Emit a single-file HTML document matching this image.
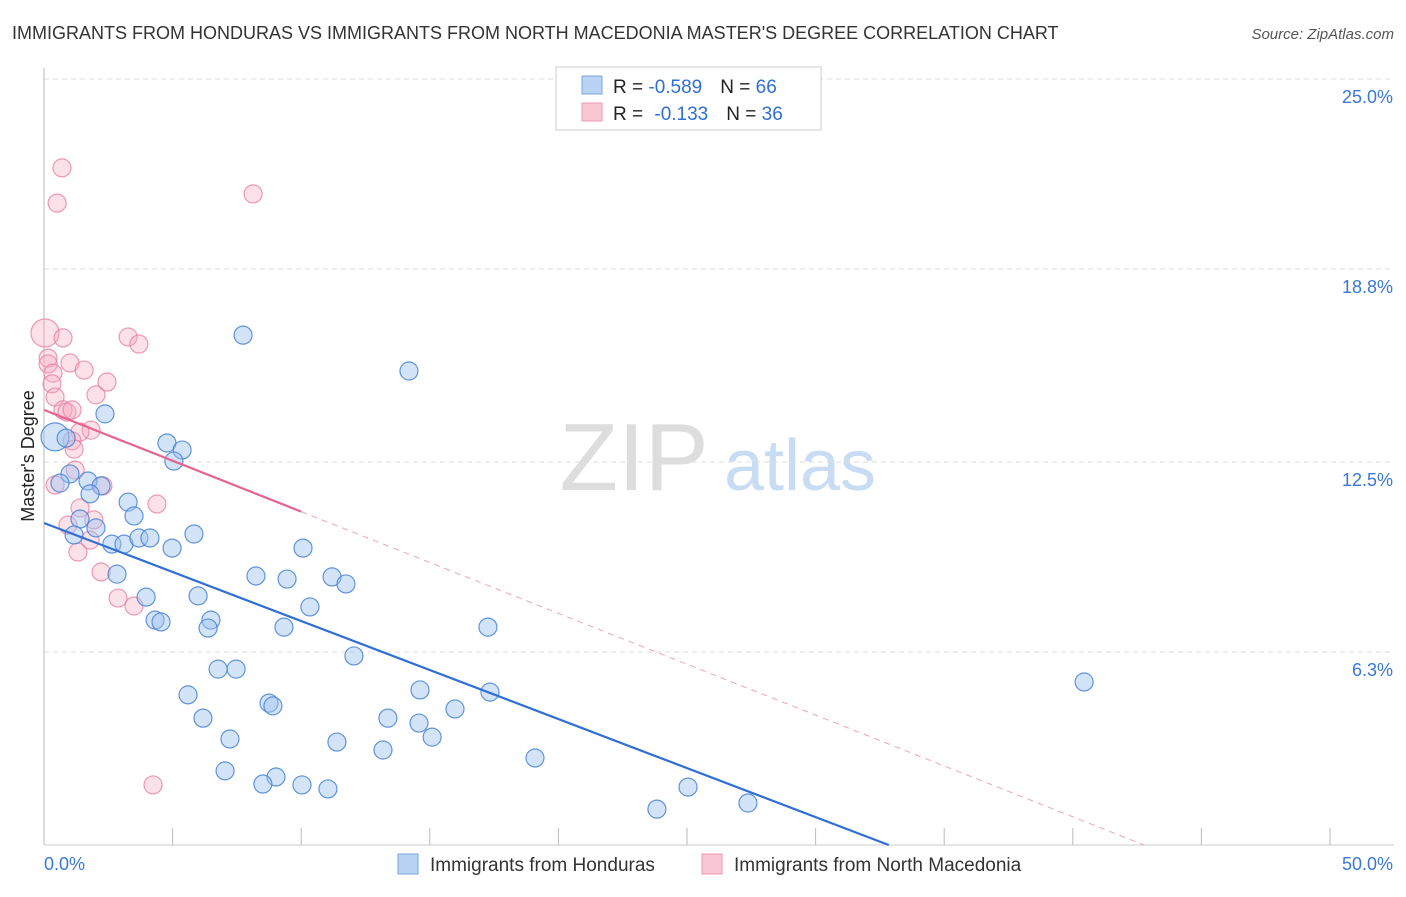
<!DOCTYPE html>
<html><head><meta charset="utf-8"><style>
body{margin:0;background:#fff;font-family:"Liberation Sans",sans-serif}
svg text{font-family:"Liberation Sans",sans-serif}
</style></head><body>
<svg id="c" width="1406" height="892" xmlns="http://www.w3.org/2000/svg">
<text x="12" y="39" font-size="18" fill="#333">IMMIGRANTS FROM HONDURAS VS IMMIGRANTS FROM NORTH MACEDONIA MASTER'S DEGREE CORRELATION CHART</text>
<text x="1394" y="39" font-size="15" fill="#555" text-anchor="end" font-style="italic">Source: ZipAtlas.com</text>
<text x="34" y="456" font-size="18" fill="#222" text-anchor="middle" transform="rotate(-90 34 456)">Master's Degree</text>
<g><text x="634" y="490" font-size="96" fill="#ddd" font-family="Liberation Serif" text-anchor="middle">ZIP</text><text x="800" y="490" font-size="72" fill="#c8dcf3" text-anchor="middle">atlas</text></g>
<g id="grid"></g><g id="marks"></g>
<g>
<rect x="556" y="67" width="265" height="63" fill="#fff" stroke="#ccc"/>
<rect x="582" y="76" width="20" height="18" fill="#b9d3f5" stroke="#7aa6e0"/>
<rect x="582" y="103" width="20" height="18" fill="#f9c6d4" stroke="#eb9ab2"/>
<text x="613" y="93" font-size="19" fill="#222">R = <tspan fill="#2f6fd6">-0.589</tspan><tspan dx="18">N = </tspan><tspan fill="#2f6fd6">66</tspan></text>
<text x="613" y="120" font-size="19" fill="#222">R = <tspan dx="6" fill="#2f6fd6">-0.133</tspan><tspan dx="18">N = </tspan><tspan fill="#2f6fd6">36</tspan></text>
</g>
<g>
<rect x="398" y="854" width="20" height="20" fill="#b9d3f5" stroke="#7aa6e0"/>
<text x="430" y="871" font-size="19" fill="#333">Immigrants from Honduras</text>
<rect x="702" y="854" width="20" height="20" fill="#f9c6d4" stroke="#eb9ab2"/>
<text x="734" y="871" font-size="19" fill="#333">Immigrants from North Macedonia</text>
</g>
</svg>
<script>
const yTicks=[25,18.8,12.5,6.3];
const yTickLabels=["25.0%","18.8%","12.5%","6.3%"];
const xEndLabels=["0.0%","50.0%"];
const blueX=[7.74,14.19,2.37,0.43,0.86,4.78,5.37,5.05,1.01,0.62,1.71,2.22,1.79,3.27,3.5,1.4,2.02,1.17,2.64,3.11,3.69,4.12,4.98,5.83,10.07,8.24,9.45,11.2,11.74,2.84,3.97,5.99,10.34,4.32,4.55,6.49,6.38,9.33,17.26,12.05,6.77,7.47,5.6,14.62,17.34,40.44,8.75,8.9,6.18,13.37,14.58,15.98,15.09,7.23,11.39,13.18,19.09,7.04,9.02,8.51,10.03,11.04,25.04,27.37,23.83];
const blueY=[16.64,15.47,14.07,13.32,13.28,13.12,12.89,12.53,12.11,11.81,11.88,11.72,11.46,11.19,10.74,10.64,10.35,10.12,9.82,9.82,10.02,10.02,9.69,10.15,9.69,8.78,8.68,8.75,8.52,8.84,8.09,8.13,7.77,7.34,7.28,7.34,7.08,7.11,7.11,6.17,5.74,5.74,4.9,5.06,4.99,5.32,4.63,4.54,4.14,4.14,3.98,4.44,3.52,3.46,3.36,3.1,2.84,2.42,2.22,1.99,1.96,1.83,1.89,1.37,1.17];
const pinkX=[0.7,0.51,8.13,0.04,0.74,3.27,3.69,0.16,0.16,1.01,0.35,1.56,0.31,2.45,2.02,0.43,0.74,0.89,1.09,1.83,1.4,1.09,1.17,1.21,0.43,2.29,4.39,1.4,1.94,0.93,1.79,1.32,2.22,2.88,3.5,4.24];
const pinkY=[22.1,20.95,21.25,16.71,16.55,16.58,16.35,15.89,15.7,15.73,15.4,15.5,15.05,15.11,14.69,14.62,14.2,14.13,14.2,13.54,13.48,13.19,12.92,12.24,11.75,11.72,11.13,11.0,10.61,10.44,9.95,9.56,8.91,8.06,7.8,1.96];
const blueTrend=[10.51,-0.32];   // intercept, slope
const pinkTrend=[14.2,-0.332];
const X0=44,X1=1330,Y0=845,YT=79;
const xs=v=>X0+(X1-X0)*v/50, ys=v=>Y0-(Y0-YT)*v/25;
const NS="http://www.w3.org/2000/svg";
function mk(t,a,p){const e=document.createElementNS(NS,t);for(const k in a)e.setAttribute(k,a[k]);p.appendChild(e);return e;}
const G=document.getElementById('grid'),M=document.getElementById('marks');
yTicks.forEach((t,i)=>{
 const l=mk('line',{x1:X0,x2:1394,y1:ys(t),y2:ys(t),stroke:'#ddd','stroke-dasharray':'5,4'},G);
 
 
 const tx=mk('text',{x:1393,y:ys(t)+24,'font-size':18,fill:'#3a78d8','text-anchor':'end'},G);tx.textContent=yTickLabels[i];
 
 
});
const ax=mk('line',{x1:X0,x2:X0,y1:68,y2:Y0,stroke:'#bbb'},G);


const bx=mk('line',{x1:X0,x2:1394,y1:Y0,y2:Y0,stroke:'#ccc'},G);


for(let i=0;i<=10;i++){const t=mk('line',{x1:xs(i*5),x2:xs(i*5),y1:828,y2:Y0,stroke:'#bbb'},G);
 
 }
const l0=mk('text',{x:44,y:870,'font-size':18,fill:'#3a78d8'},G);l0.textContent=xEndLabels[0];


const l1=mk('text',{x:1393,y:870,'font-size':18,fill:'#3a78d8','text-anchor':'end'},G);l1.textContent=xEndLabels[1];


function dots(X,Y,fill,stroke,name){X.forEach((x,i)=>{const big=(x<1&&i<5&&(Y[i]>13&&Y[i]<17));
 const c=mk('circle',{cx:xs(x),cy:ys(Y[i]),r:big&&(i==3)?14:9,fill:fill,stroke:stroke,'stroke-width':1.2},M);
 
 });}
dots(pinkX,pinkY,'rgba(246,170,192,0.35)','rgba(232,130,160,0.8)','point-macedonia');
dots(blueX,blueY,'rgba(160,196,240,0.45)','rgba(70,130,215,0.85)','point-honduras');
// trends
const bEnd=-blueTrend[0]/blueTrend[1];
const bt=mk('line',{x1:xs(0),y1:ys(blueTrend[0]),x2:xs(bEnd),y2:ys(0),stroke:'#2f6fd6','stroke-width':2.2},M);


const pEnd=-pinkTrend[0]/pinkTrend[1];
const pt=mk('line',{x1:xs(0),y1:ys(pinkTrend[0]),x2:xs(10),y2:ys(pinkTrend[0]+pinkTrend[1]*10),stroke:'#e8648e','stroke-width':2.2},M);


const pd=mk('line',{x1:xs(10),y1:ys(pinkTrend[0]+pinkTrend[1]*10),x2:xs(pEnd),y2:ys(0),stroke:'#eba5bb','stroke-width':1,'stroke-dasharray':'6,5'},M);


</script>
</body></html>
